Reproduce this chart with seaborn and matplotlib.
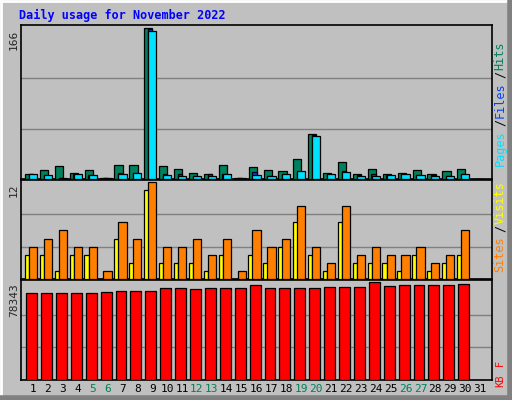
import matplotlib
matplotlib.use("Agg")
import matplotlib.pyplot as plt
import seaborn as sns
import pandas as pd
import numpy as np

days = list(range(1, 32))
hits  = [6,10,14,7,10,1,15,15,166,14,11,7,5,15,1,13,10,9,22,50,7,19,5,11,6,7,10,6,9,11,0]
files = [5,4,1,5,4,1,7,7,165,5,5,3,5,5,1,8,3,5,8,48,5,9,4,5,4,5,4,4,3,5,0]
pages = [5,4,1,5,4,1,6,7,163,4,3,3,3,5,1,4,3,5,9,47,6,8,3,3,4,6,4,3,3,6,0]
visits = [3,3,1,3,3,0,5,2,11,2,2,2,1,3,0,3,2,4,7,3,1,7,2,2,2,1,3,1,2,3,0]
sites  = [4,5,6,4,4,1,7,5,12,4,4,5,3,5,1,6,4,5,9,4,2,9,3,4,3,3,4,2,3,6,0]
kbytes = [69740,69740,69740,69740,69740,70600,71460,71460,71460,73180,73180,72320,73180,73180,73180,
          75760,73180,73180,73180,73180,74040,74040,74040,78343,74900,75760,75760,75760,75760,76620,0]
weekend = [5,6,12,13,19,20,26,27]

sns.set_style("white")
plt.rcParams['font.family'] = ['DejaVu Sans Mono', 'DejaVu Sans']

W, H = 512, 400
fig = plt.figure(figsize=(W/100, H/100), dpi=100, facecolor="#C0C0C0")
def ax_px(x0, y0, x1, y1):
    return fig.add_axes([x0/W, 1-y1/H, (x1-x0)/W, (y1-y0)/H])

fig.add_artist(plt.Line2D([1/W, 1/W], [0, 1], color="white", lw=2))
fig.add_artist(plt.Line2D([0, 1], [1-1/H, 1-1/H], color="white", lw=2))
fig.add_artist(plt.Line2D([1-2/W, 1-2/W], [0, 1], color="#808080", lw=4))
fig.add_artist(plt.Line2D([0, 1], [2/H, 2/H], color="#808080", lw=4))

fig.text(19/W, 1-15/H, "Daily usage for November 2022", color="#0000FF",
         fontsize=8.5, fontweight="bold", va="center", ha="left")

XL = (0.19, 31.8)
df = pd.DataFrame({"day": days, "hits": hits, "files": files, "pages": pages,
                   "visits": visits, "sites": sites, "kb": kbytes})

def style(ax, ymax, grids):
    ax.set_facecolor("#C0C0C0")
    ax.set_xlim(*XL)
    ax.set_ylim(0, ymax*1.02)
    for g in grids:
        ax.axhline(g, color="#808080", lw=1, zorder=0)
    ax.set_xticks([]); ax.set_yticks([])
    ax.set_xlabel(""); ax.set_ylabel("")
    for s in ax.spines.values():
        s.set_color("black"); s.set_linewidth(1.2)

def bars(ax, col, off, width, color):
    sns.barplot(data=df.assign(xp=df["day"]+off), x="xp", y=col, native_scale=True,
                width=width, color=color, edgecolor="black", linewidth=0.9,
                saturation=1, ax=ax, zorder=3)

ax1 = ax_px(21, 25, 492, 179)
bars(ax1, "hits", -0.26, 0.55, "#00805C")
bars(ax1, "files", -0.14, 0.3, "#0040FF")
bars(ax1, "pages", 0.0, 0.55, "#00E0FF")
style(ax1, 166, [166*1/3, 166*2/3])

ax2 = ax_px(21, 180, 492, 279)
bars(ax2, "visits", -0.4, 0.3, "#FFFF00")
bars(ax2, "sites", 0.0, 0.55, "#FF8000")
style(ax2, 12, [4, 8])

ax3 = ax_px(21, 280, 492, 380)
bars(ax3, "kb", -0.1, 0.73, "#FF0000")
style(ax3, 78343, [78343/3, 78343*2/3])

fig.text(14/W, 1-40/H, "166", rotation=90, fontsize=8, ha="center", va="center")
fig.text(14/W, 1-190/H, "12", rotation=90, fontsize=8, ha="center", va="center")
fig.text(14/W, 1-300/H, "78343", rotation=90, fontsize=8, ha="center", va="center")

def vlegend(ybot, parts, fs=8.5, cw=8.0):
    y = ybot
    for txt, c in parts:
        fig.text(500/W, 1-y/H, txt, rotation=90, fontsize=fs, color=c,
                 ha="center", va="bottom")
        y -= cw*len(txt)
vlegend(166, [("Pages", "#00E0FF"), ("/", "black"), ("Files", "#0040FF"),
              ("/", "black"), ("Hits", "#00805C")])
vlegend(272, [("Sites", "#FF8000"), ("/", "black"), ("Visits", "#FFFF00")])
vlegend(387, [("KB", "#FF0000"), (" ", "black"), ("F", "#FF0000")], fs=7.5, cw=7.0)

for d in days:
    x = 33 + (d-1)*14.9
    fig.text(x/W, 1-389/H, str(d), fontsize=8, ha="center", va="center",
             color="#00805C" if d in weekend else "black")

fig.savefig("out.png", dpi=100, facecolor=fig.get_facecolor())
